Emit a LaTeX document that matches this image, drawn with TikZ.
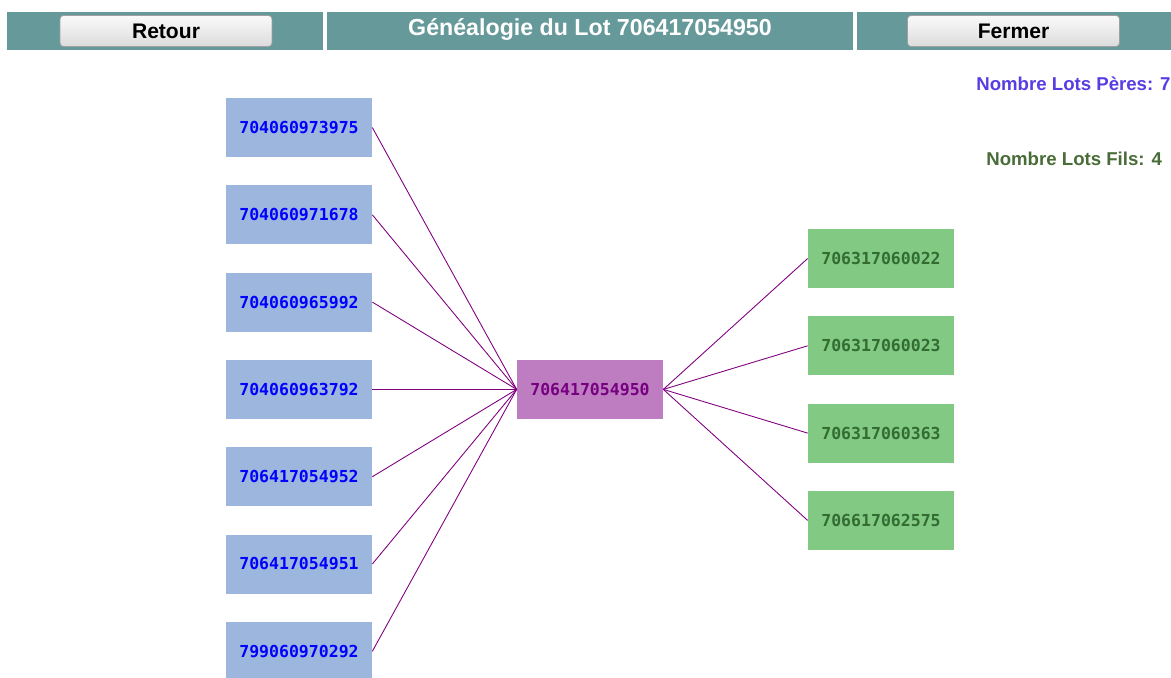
\documentclass[tikz,border=0pt]{standalone}
\usepackage{fontspec}
\setmainfont{Liberation Sans}
\newfontfamily\lotfont{DejaVu Sans Mono}
\usetikzlibrary{positioning}
\definecolor{genTeal}{RGB}{102,153,153}
\definecolor{genPere}{RGB}{156,182,222}
\definecolor{genLot}{RGB}{191,125,193}
\definecolor{genFils}{RGB}{130,201,132}
\definecolor{genPereText}{RGB}{0,0,255}
\definecolor{genLotText}{RGB}{118,0,128}
\definecolor{genFilsText}{RGB}{50,108,50}
\definecolor{genLink}{RGB}{128,0,128}
\definecolor{genCountPere}{RGB}{88,62,226}
\definecolor{genCountFils}{RGB}{74,108,56}
\tikzset{
    lotBase/.style={
        rectangle,
        minimum width=2.92cm,
        minimum height=1.18cm,
        inner sep=0pt,
        font=\lotfont\bfseries\fontsize{9.4}{11}\selectfont
    },
    % Lot variants
    pere/.style={lotBase, fill=genPere, text=genPereText},
    lot/.style={lotBase, fill=genLot, text=genLotText},
    fils/.style={lotBase, fill=genFils, text=genFilsText},
    % Header
    headCell/.style={fill=genTeal},
    button/.style={
        rectangle,
        rounded corners=2pt,
        draw=gray!75,
        top color=gray!4,
        bottom color=gray!28,
        minimum width=4.24cm,
        minimum height=0.62cm,
        inner sep=0pt,
        font=\bfseries\fontsize{12}{14}\selectfont
    },
    count/.style={anchor=west, inner sep=0pt, font=\bfseries\fontsize{10.6}{12}\selectfont},
    % Links
    link/.style={draw=genLink, line width=0.5pt}
}
\begin{document}
\begin{tikzpicture}[x=0.02cm, y=-0.02cm]
\useasboundingbox[fill=white] (0,0) rectangle (1171,677);
\begin{scope}
\clip (0,0) rectangle (1171,677);

% header bar
\fill[headCell] (7,12) rectangle (323,50);
\fill[headCell] (327,12) rectangle (853,50);
\fill[headCell] (857,12) rectangle (1171,50);
\node[button] (retour) at (166,31) {Retour};
\node[button] (fermer) at (1013.5,31) {Fermer};
\node[text=white, font=\bfseries\fontsize{13.2}{15}\selectfont] (titre) at (590,29) {Généalogie du Lot 706417054950};

% counts
\node[count, text=genCountPere] (nbPeres) at (976,84) {Nombre Lots Pères: 7};
\node[count, text=genCountFils] (nbFils) at (986,159) {Nombre Lots Fils: 4};

% lot peres
\node[pere] (p1) at (299,127.5) {704060973975};
\node[pere] (p2) at (299,214.8) {704060971678};
\node[pere] (p3) at (299,302.1) {704060965992};
\node[pere] (p4) at (299,389.4) {704060963792};
\node[pere] (p5) at (299,476.7) {706417054952};
\node[pere] (p6) at (299,564) {706417054951};
\node[pere] (p7) at (299,651.3) {799060970292};

% lot courant
\node[lot] (lot) at (590,389.4) {706417054950};

% lot fils
\node[fils] (f1) at (881,258.5) {706317060022};
\node[fils] (f2) at (881,345.8) {706317060023};
\node[fils] (f3) at (881,433.1) {706317060363};
\node[fils] (f4) at (881,520.4) {706617062575};

\draw[link] (p1.east) -- (lot.west);
\draw[link] (p2.east) -- (lot.west);
\draw[link] (p3.east) -- (lot.west);
\draw[link] (p4.east) -- (lot.west);
\draw[link] (p5.east) -- (lot.west);
\draw[link] (p6.east) -- (lot.west);
\draw[link] (p7.east) -- (lot.west);

\draw[link] (lot.east) -- (f1.west);
\draw[link] (lot.east) -- (f2.west);
\draw[link] (lot.east) -- (f3.west);
\draw[link] (lot.east) -- (f4.west);
\end{scope}
\end{tikzpicture}
\end{document}
